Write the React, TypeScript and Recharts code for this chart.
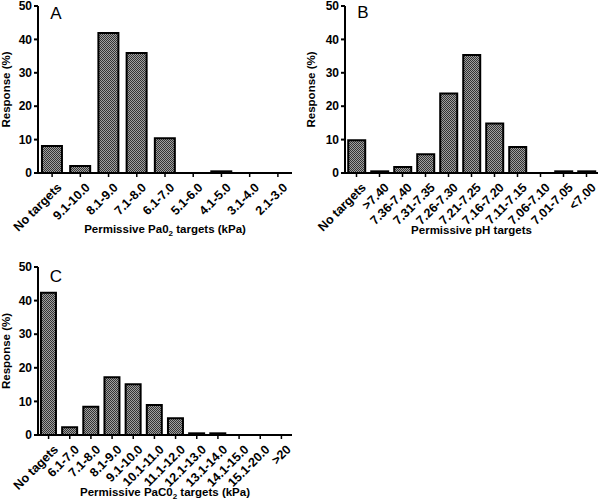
import React from 'react';
import { BarChart, Bar, XAxis, YAxis } from 'recharts';

// Panel A - PaO2 targets
const paO2Categories = ['No targets', '9.1-10.0', '8.1-9.0', '7.1-8.0', '6.1-7.0', '5.1-6.0', '4.1-5.0', '3.1-4.0', '2.1-3.0'];
const paO2Values = [8.1, 2.1, 41.9, 35.9, 10.4, 0, 0.5, 0, 0];

// Panel B - pH targets
const phCategories = ['No targets', '>7.40', '7.36-7.40', '7.31-7.35', '7.26-7.30', '7.21-7.25', '7.16-7.20', '7.11-7.15', '7.06-7.10', '7.01-7.05', '<7.00'];
const phValues = [9.8, 0.5, 1.8, 5.6, 23.8, 35.3, 14.8, 7.8, 0, 0.5, 0.5];

// Panel C - PaCO2 targets
const paCO2Categories = ['No tagets', '6.1-7.0', '7.1-8.0', '8.1-9.0', '9.1-10.0', '10.1-11.0', '11.1-12.0', '12.1-13.0', '13.1-14.0', '14.1-15.0', '15.1-20.0', '>20'];
const paCO2Values = [42.3, 2.3, 8.4, 17.2, 15.1, 8.9, 5.0, 0.5, 0.5, 0, 0, 0];

const yTicks = [0, 10, 20, 30, 40, 50];

const FONT = '"Liberation Sans", Arial, sans-serif';

const toRows = (cats: string[], vals: number[]) => cats.map((name, i) => ({ name, value: vals[i] }));

const XTick = ({ x, y, payload }: any) => (
  <text
    x={x + 4}
    y={y + 3}
    transform={`rotate(-45 ${x + 4} ${y + 3})`}
    textAnchor="end"
    dominantBaseline="hanging"
    fontFamily={FONT}
    fontWeight="bold"
    fontSize={12.5}
    fill="#000"
  >
    {payload.value}
  </text>
);

interface PanelProps {
  id: string;
  rows: Array<{ name: string; value: number }>;
  width: number;
  height: number;
  top: number;
  right: number;
  yWidth: number;
  yTitleX: number;
  xHeight: number;
  titleOffset: number;
  xTitle: React.ReactNode;
}

const Panel = ({ id, rows, width, height, top, right, yWidth, yTitleX, xHeight, titleOffset, xTitle }: PanelProps) => (
  <BarChart
    width={width}
    height={height}
    data={rows}
    margin={{ top, right, left: 0, bottom: 0 }}
    barCategoryGap="14%"
  >
    <defs>
      <pattern id={id} width={2} height={2} patternUnits="userSpaceOnUse">
        <rect width={2} height={2} fill="#a0a0a0" />
        <rect width={1} height={1} fill="#333" />
        <rect x={1} y={1} width={1} height={1} fill="#333" />
      </pattern>
    </defs>
    <YAxis
      width={yWidth}
      domain={[0, 50]}
      ticks={yTicks}
      interval={0}
      tickSize={4}
      tickMargin={2}
      axisLine={{ stroke: '#000', strokeWidth: 2 }}
      tickLine={{ stroke: '#000', strokeWidth: 2 }}
      tick={{ fill: '#000', fontFamily: FONT, fontWeight: 'bold', fontSize: 12 }}
      label={({ viewBox }: any) => {
        const cx = viewBox.x + yTitleX;
        const cy = viewBox.y + viewBox.height / 2;
        return (
          <text
            x={cx}
            y={cy}
            transform={`rotate(-90 ${cx} ${cy})`}
            textAnchor="middle"
            fontFamily={FONT}
            fontWeight="bold"
            fontSize={11.5}
            fill="#000"
          >
            Response (%)
          </text>
        );
      }}
    />
    <XAxis
      dataKey="name"
      height={xHeight}
      interval={0}
      tickSize={4}
      axisLine={{ stroke: '#000', strokeWidth: 2 }}
      tickLine={{ stroke: '#000', strokeWidth: 1.5 }}
      tick={<XTick />}
      label={({ viewBox }: any) => (
        <text
          x={viewBox.x + viewBox.width / 2}
          y={viewBox.y + titleOffset}
          textAnchor="middle"
          fontFamily={FONT}
          fontWeight="bold"
          fontSize={11.5}
          fill="#000"
        >
          {xTitle}
        </text>
      )}
    />
    <Bar dataKey="value" fill={`url(#${id})`} stroke="#000" strokeWidth={2} isAnimationActive={false} />
  </BarChart>
);

const letterStyle = { fontFamily: FONT, fontSize: 17, fill: '#000' };

export default function App() {
  return (
    <div style={{ position: 'absolute', left: 0, top: 0, width: 600, height: 503, background: '#fff' }}>
      <div style={{ position: 'absolute', left: 0, top: 0 }}>
        <Panel
          id="patA"
          rows={toRows(paO2Categories, paO2Values)}
          width={300}
          height={250}
          top={6}
          right={8}
          yWidth={38}
          yTitleX={10}
          xHeight={77}
          titleOffset={60}
          xTitle={
            <>
              <tspan>Permissive Pa0</tspan>
              <tspan fontSize={8} dy={3}>2</tspan>
              <tspan dy={-3}> targets (kPa)</tspan>
            </>
          }
        />
      </div>
      <div style={{ position: 'absolute', left: 300, top: 0 }}>
        <Panel
          id="patB"
          rows={toRows(phCategories, phValues)}
          width={300}
          height={250}
          top={6}
          right={2}
          yWidth={45}
          yTitleX={15}
          xHeight={77}
          titleOffset={61}
          xTitle={<tspan>Permissive pH targets</tspan>}
        />
      </div>
      <div style={{ position: 'absolute', left: 0, top: 250 }}>
        <Panel
          id="patC"
          rows={toRows(paCO2Categories, paCO2Values)}
          width={300}
          height={253}
          top={17}
          right={8}
          yWidth={38}
          yTitleX={10}
          xHeight={68}
          titleOffset={61}
          xTitle={
            <>
              <tspan>Permissive PaC0</tspan>
              <tspan fontSize={8} dy={3}>2</tspan>
              <tspan dy={-3}> targets (kPa)</tspan>
            </>
          }
        />
      </div>
      <svg width={600} height={503} style={{ position: 'absolute', left: 0, top: 0, pointerEvents: 'none' }}>
        <text x={56} y={19} textAnchor="middle" style={letterStyle}>A</text>
        <text x={363} y={18} textAnchor="middle" style={letterStyle}>B</text>
        <text x={56} y={282} textAnchor="middle" style={letterStyle}>C</text>
      </svg>
    </div>
  );
}
